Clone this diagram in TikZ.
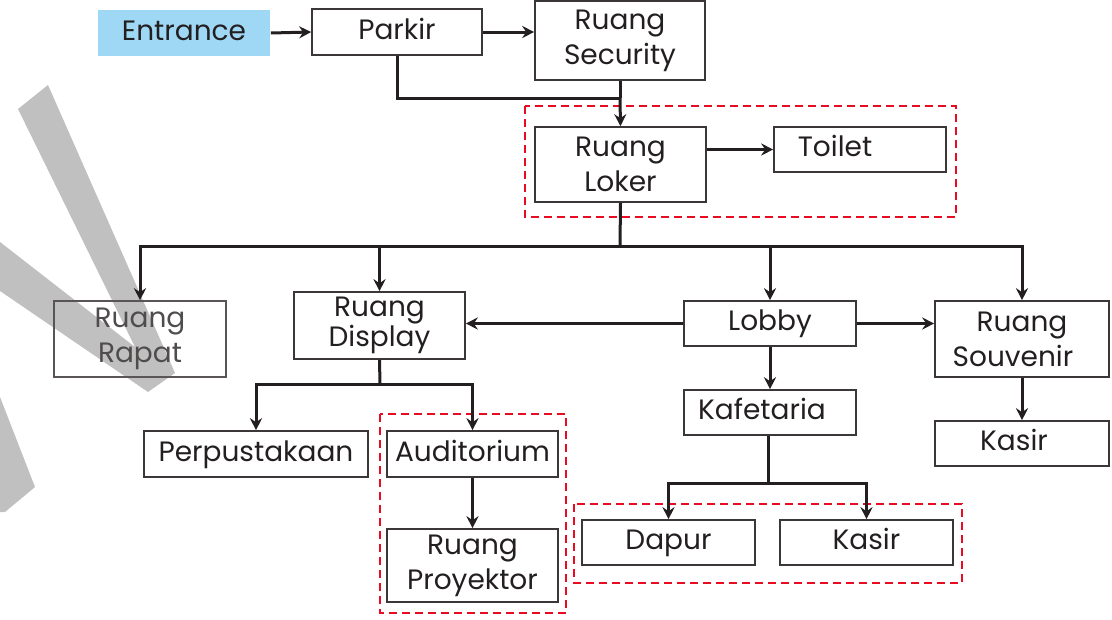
\documentclass[tikz,border=0pt]{standalone}
\usepackage{fontspec}
\setmainfont{Poppins}
\usetikzlibrary{arrows.meta}
\definecolor{ink}{RGB}{35,31,32}
\definecolor{edge}{RGB}{60,55,55}
\definecolor{wm}{RGB}{192,192,192}
\definecolor{entblue}{RGB}{159,216,245}
\definecolor{redd}{RGB}{232,12,35}
\begin{document}
\begin{tikzpicture}[x=1pt,y=-1pt,
  box/.style={draw=edge, line width=1.6pt, rectangle, inner sep=0pt, text=ink,
    align=center, font=\fontsize{28}{35}\selectfont},
  one/.style={text height=20pt, text depth=6pt},
  tight/.style={font=\fontsize{28}{26}\selectfont},
  conn/.style={draw=ink, line width=3pt},
  arr/.style={conn, -{Stealth[length=12pt,width=12pt,inset=4pt]}},
  group/.style={draw=redd, line width=2.6pt, dash pattern=on 8pt off 5pt}]
\useasboundingbox (0,0) rectangle (1112,619);
% watermark
\fill[wm] (48,85) -- (175,373) -- (148,392) -- (0,291) -- (0,242) -- (135,347) -- (18,109) -- cycle;
\fill[wm] (0,397) -- (35,487) -- (5,512) -- (0,512) -- cycle;
% groups
\draw[group] (525,106) rectangle (956,217);
\draw[group] (380,414) rectangle (566,613);
\draw[group] (574,504) rectangle (962,583);
% nodes
\node[box, one, draw=none, fill=entblue, minimum width=172pt, minimum height=46pt] (entrance) at (184,33) {Entrance};
\node[box, one, minimum width=170pt, minimum height=46pt] (parkir) at (397,32) {Parkir};
\node[box, minimum width=170pt, minimum height=79pt] (security) at (620,40.5) {Ruang\\Security};
\node[box, minimum width=171pt, minimum height=75pt] (loker) at (620.5,164.5) {Ruang\\Loker};
\node[box, one, minimum width=172pt, minimum height=45pt] (toilet) at (860,149.5) {Toilet\hspace*{50pt}};
\node[box, draw=edge!85, text=ink!80, minimum width=172pt, minimum height=76pt] (rapat) at (140,339) {Ruang\\Rapat};
\node[box, tight, minimum width=171pt, minimum height=67pt] (display) at (379.5,325.5) {Ruang\\Display};
\node[box, one, minimum width=172pt, minimum height=45pt] (lobby) at (770,323.5) {Lobby};
\node[box, minimum width=174pt, minimum height=76pt] (souvenir) at (1022,339) {Ruang\\Souvenir\hspace*{18pt}};
\node[box, one, minimum width=224pt, minimum height=46pt] (perpus) at (256,454) {Perpustakaan};
\node[box, one, minimum width=171pt, minimum height=46pt] (audit) at (472.5,454) {Auditorium};
\node[box, minimum width=171pt, minimum height=73pt] (proyektor) at (472.5,565.5) {Ruang\\Proyektor};
\node[box, one, minimum width=172pt, minimum height=45pt] (kafe) at (770,412.5) {Kafetaria\hspace*{16pt}};
\node[box, one, minimum width=174pt, minimum height=45pt] (kasirR) at (1022,443.5) {Kasir\hspace*{16pt}};
\node[box, one, minimum width=173pt, minimum height=45pt] (dapur) at (668.5,542.5) {Dapur};
\node[box, one, minimum width=173pt, minimum height=45pt] (kasir) at (866.5,542.5) {Kasir};
% junctions
\coordinate (j1) at (620,98);
\coordinate (bus) at (620,246);
\coordinate (dj) at (380,384);
\coordinate (kj) at (768,483);
% connectors
\draw[arr] (entrance.east) -- (parkir.west);
\draw[arr] (parkir.east) -- (parkir.east -| security.west);
\draw[conn] (parkir.south) |- (j1);
\draw[conn] (security.south) -- (j1);
\draw[arr] (j1) -- (loker.north);
\draw[arr] (loker.east |- toilet.west) -- (toilet.west);
\draw[conn] (loker.south) -- (bus);
\draw[arr] (bus) -| (rapat.north);
\draw[arr] (bus) -| (display.north);
\draw[arr] (bus) -| (lobby.north);
\draw[arr] (bus) -| (souvenir.north);
\draw[arr] (lobby.west) -- (lobby.west -| display.east);
\draw[arr] (lobby.east) -- (lobby.east -| souvenir.west);
\draw[conn] (display.south) -- (dj);
\draw[arr] (dj) -| (perpus.north);
\draw[arr] (dj) -| (audit.north);
\draw[arr] (audit.south) -- (proyektor.north);
\draw[arr] (lobby.south) -- (kafe.north);
\draw[conn] (kafe.south -| kj) -- (kj);
\draw[arr] (kj) -| (dapur.north);
\draw[arr] (kj) -| (kasir.north);
\draw[arr] (souvenir.south) -- (kasirR.north);
\end{tikzpicture}
\end{document}
